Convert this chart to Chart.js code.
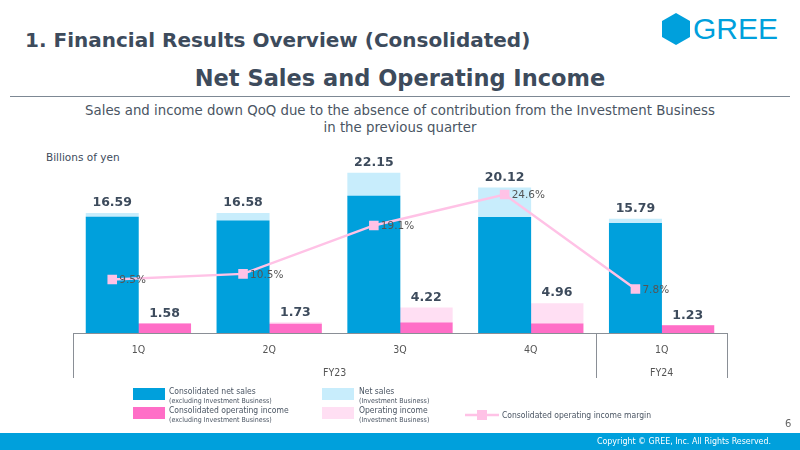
<!DOCTYPE html>
<html>
<head>
<meta charset="utf-8">
<script src="https://cdn.jsdelivr.net/npm/chart.js@4"></script>
<style>
  html, body { margin: 0; padding: 0; }
  body { width: 800px; height: 450px; position: relative; overflow: hidden; background: #fff; font-family: "DejaVu Sans", sans-serif; color: #3d4b5c; }
  .abs { position: absolute; white-space: nowrap; }
  #page-title { left: 25px; top: 28px; font-size: 20px; font-weight: bold; }
  #chart-title { left: 0; width: 800px; top: 65px; text-align: center; font-size: 22.5px; font-weight: bold; }
  #rule { left: 10px; top: 96px; width: 780px; height: 0; border-top: 1.5px solid #7d8894; }
  #subtitle { left: 0; width: 800px; top: 101px; text-align: center; font-size: 14.8px; line-height: 17px; color: #4a5563; font-family: "DejaVu Sans Condensed", "DejaVu Sans", sans-serif; }
  #unit { left: 46px; top: 151px; font-size: 10.5px; color: #3d4b5c; }
  #logo { left: 661px; top: 13px; }
  #logo-text { left: 693px; top: 12px; font-size: 30px; color: #00a0dc; font-family: "Liberation Sans", sans-serif; }
  .sw { position: absolute; width: 32px; height: 12px; }
  .lg { position: absolute; font-size: 8.5px; line-height: 9px; color: #4a5563; font-family: "DejaVu Sans Condensed", "DejaVu Sans", sans-serif; }
  .lg small { font-size: 7px; }
  #footer { left: 0; top: 433px; width: 800px; height: 17px; background: #00a0dc; }
  #copy { right: 29px; top: 436px; font-size: 8.8px; color: #fff; font-family: "DejaVu Sans Condensed", "DejaVu Sans", sans-serif; }
  #pageno { left: 785px; top: 418px; font-size: 10px; color: #666; }
  #wrap { position: absolute; left: 0; top: 0; width: 800px; height: 450px; }
</style>
</head>
<body>
<div class="abs" id="page-title">1. Financial Results Overview (Consolidated)</div>
<svg class="abs" id="logo" width="30" height="32" viewBox="0 0 30 32"><polygon points="15,0 29,8 29,24 15,32 1,24 1,8" fill="#00a0dc"/></svg>
<div class="abs" id="logo-text">GREE</div>
<div class="abs" id="chart-title">Net Sales and Operating Income</div>
<div class="abs" id="rule"></div>
<div class="abs" id="subtitle">Sales and income down QoQ due to the absence of contribution from the Investment Business<br>in the previous quarter</div>
<div class="abs" id="unit">Billions of yen</div>

<div id="wrap"><canvas id="salesChart" width="800" height="450"></canvas></div>

<div class="sw" style="left:133px;top:388px;background:#00a0dc"></div>
<div class="lg" style="left:169px;top:387px">Consolidated net sales<br><small>(excluding Investment Business)</small></div>
<div class="sw" style="left:133px;top:407px;background:#ff6ec7"></div>
<div class="lg" style="left:169px;top:406px">Consolidated operating income<br><small>(excluding Investment Business)</small></div>
<div class="sw" style="left:322px;top:388px;background:#c8edfc"></div>
<div class="lg" style="left:359px;top:387px">Net sales<br><small>(Investment Business)</small></div>
<div class="sw" style="left:322px;top:407px;background:#ffdff3"></div>
<div class="lg" style="left:359px;top:406px">Operating income<br><small>(Investment Business)</small></div>
<svg class="abs" style="left:465px;top:409px" width="34" height="12"><line x1="0" y1="6" x2="34" y2="6" stroke="#ffc2e6" stroke-width="2.5"/><rect x="12" y="1" width="10" height="10" fill="#ffc2e6"/></svg>
<div class="lg" style="left:502px;top:411px">Consolidated operating income margin</div>

<div class="abs" id="pageno">6</div>
<div class="abs" id="footer"></div>
<div class="abs" id="copy">Copyright © GREE, Inc. All Rights Reserved.</div>

<script>
const quarters = ["1Q", "2Q", "3Q", "4Q", "1Q"];
const fiscalYears = ["FY23", "FY23", "FY23", "FY23", "FY24"];
const salesCore = [16.06, 15.55, 18.97, 16.02, 15.19];
const salesInvest = [0.53, 1.03, 3.18, 4.10, 0.60];
const incomeCore = [1.52, 1.50, 1.70, 1.55, 1.23];
const incomeInvest = [0.06, 0.23, 2.52, 3.41, 0.00];
const marginPct = [9.5, 10.5, 19.1, 24.6, 7.8];

const TEXT = "#3d4b5c";

// each quarter is one unit on a linear x axis; sales bar sits left of centre, income bar right
const atSales = (arr) => arr.map((v, i) => ({ x: i + 0.3, y: v }));
const atIncome = (arr) => arr.map((v, i) => ({ x: i + 0.7, y: v }));

const labelPlugin = {
  id: "labels",
  afterDatasetsDraw(chart) {
    const ctx = chart.ctx;
    const area = chart.chartArea;
    const x = chart.scales.x;
    ctx.save();

    // stack totals
    ctx.font = "bold 12.5px 'DejaVu Sans'";
    ctx.fillStyle = TEXT;
    ctx.textAlign = "center";
    ctx.textBaseline = "alphabetic";
    [[0, 1, salesCore, salesInvest], [2, 3, incomeCore, incomeInvest]].forEach(([a, b, core, inv]) => {
      const ma = chart.getDatasetMeta(a);
      const mb = chart.getDatasetMeta(b);
      core.forEach((v, i) => {
        const top = Math.min(ma.data[i].y, mb.data[i].y);
        ctx.fillText((v + inv[i]).toFixed(2), ma.data[i].x, top - 7);
      });
    });

    // margin labels
    const ml = chart.getDatasetMeta(4);
    ctx.font = "10.5px 'DejaVu Sans'";
    ctx.fillStyle = "#555";
    ctx.textAlign = "left";
    ctx.textBaseline = "middle";
    ml.data.forEach((p, i) => {
      ctx.fillText(marginPct[i].toFixed(1) + "%", p.x + 7, p.y + 1);
    });

    // category axis box
    const left = area.left, right = area.right, bottom = area.bottom;
    const sep = x.getPixelForValue(4);
    ctx.strokeStyle = "#8a8f96";
    ctx.lineWidth = 1;
    ctx.beginPath();
    ctx.moveTo(left, bottom + 0.5); ctx.lineTo(right, bottom + 0.5);
    [left, sep, right].forEach(px => {
      ctx.moveTo(Math.round(px) + 0.5, bottom); ctx.lineTo(Math.round(px) + 0.5, bottom + 45);
    });
    ctx.stroke();

    ctx.font = "10.5px 'DejaVu Sans Condensed', 'DejaVu Sans'";
    ctx.fillStyle = "#555";
    ctx.textAlign = "center";
    ctx.textBaseline = "alphabetic";
    quarters.forEach((q, i) => ctx.fillText(q, x.getPixelForValue(i + 0.5), bottom + 20));
    ctx.fillText(fiscalYears[0], (left + sep) / 2, bottom + 43);
    ctx.fillText(fiscalYears[4], (sep + right) / 2, bottom + 43);
    ctx.restore();
  }
};

new Chart(document.getElementById("salesChart"), {
  type: "bar",
  data: {
    datasets: [
      { label: "Consolidated net sales", data: atSales(salesCore), backgroundColor: "#00a0dc", stack: "sales", yAxisID: "y", order: 1 },
      { label: "Net sales (Investment Business)", data: atSales(salesInvest), backgroundColor: "#c8edfc", stack: "sales", yAxisID: "y", order: 1 },
      { label: "Consolidated operating income", data: atIncome(incomeCore), backgroundColor: "#ff6ec7", stack: "income", yAxisID: "y2", order: 1 },
      { label: "Operating income (Investment Business)", data: atIncome(incomeInvest), backgroundColor: "#ffdff3", stack: "income", yAxisID: "y2", order: 1 },
      {
        type: "line",
        label: "Consolidated operating income margin",
        data: atSales(marginPct),
        yAxisID: "y3",
        borderColor: "#ffc2e6",
        borderWidth: 2.5,
        pointStyle: "rect",
        pointRadius: 5,
        pointBackgroundColor: "#ffc2e6",
        pointBorderColor: "#ffc2e6",
        order: 0
      }
    ]
  },
  options: {
    responsive: false,
    animation: false,
    layout: { padding: { left: 73, right: 73, top: 150, bottom: 117 } },
    datasets: { bar: { grouped: false, categoryPercentage: 1.0, barPercentage: 1.0 } },
    plugins: { legend: { display: false }, tooltip: { enabled: false } },
    scales: {
      x: { type: "linear", display: false, min: 0, max: 5, offset: false },
      y: { display: false, stacked: true, min: 0, max: 25.35 },
      y2: { display: false, stacked: true, min: 0, max: 30.75 },
      y3: { display: false, min: 0, max: 32.5 }
    }
  },
  plugins: [labelPlugin]
});
</script>
</body>
</html>
